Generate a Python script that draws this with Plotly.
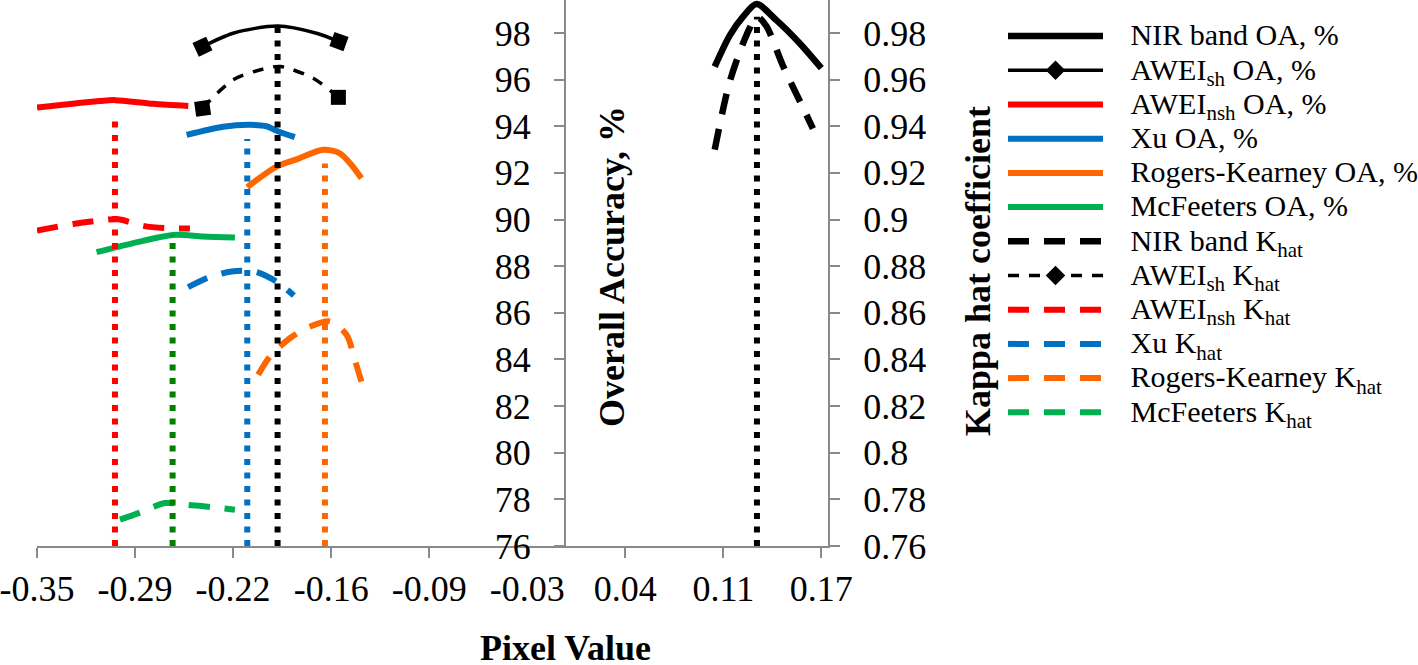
import plotly.graph_objects as go

FONT = "Liberation Serif"
AXIS_GRAY = "#898989"

# ---------------- axis ticks ----------------
x_tickvals = [-0.35, -0.285, -0.22, -0.155, -0.09, -0.025, 0.04, 0.105, 0.17]
x_ticktext = ["-0.35", "-0.29", "-0.22", "-0.16", "-0.09", "-0.03", "0.04", "0.11", "0.17"]
oa_tickvals = [76, 78, 80, 82, 84, 86, 88, 90, 92, 94, 96, 98]
k_tickvals = [0.76, 0.78, 0.80, 0.82, 0.84, 0.86, 0.88, 0.90, 0.92, 0.94, 0.96, 0.98]
k_ticktext = ["0.76", "0.78", "0.8", "0.82", "0.84", "0.86", "0.88", "0.9", "0.92", "0.94", "0.96", "0.98"]

x_range = [-0.35, 0.1744]
oa_range = [76, 99.414]
k_range = [0.76, 0.99414]

# ---------------- Overall accuracy (%) ----------------
nir_oa_x = [0.0993, 0.1093, 0.1181, 0.1270, 0.1400, 0.1556, 0.1700]
nir_oa_y = [96.56, 97.90, 98.70, 99.24, 98.56, 97.56, 96.49]

aweish_oa_x = [-0.2403, -0.2200, -0.1905, -0.1647, -0.1498]
aweish_oa_y = [97.41, 97.99, 98.30, 97.99, 97.63]

aweinsh_oa_x = [-0.3500, -0.3082, -0.2983, -0.2729, -0.2497]
aweinsh_oa_y = [94.80, 95.08, 95.12, 94.96, 94.87]

xu_oa_x = [-0.2508, -0.2266, -0.2089, -0.1978, -0.1912, -0.1791]
xu_oa_y = [93.63, 93.98, 94.06, 94.00, 93.81, 93.53]

rk_oa_x = [-0.2106, -0.1912, -0.1779, -0.1603, -0.1492, -0.1415, -0.1349]
rk_oa_y = [91.39, 92.27, 92.58, 92.99, 92.84, 92.34, 91.77]

mcf_oa_x = [-0.3105, -0.2862, -0.2597, -0.2398, -0.2188]
mcf_oa_y = [88.60, 88.99, 89.34, 89.27, 89.23]

# ---------------- Kappa hat ----------------
nir_k_x = [0.0993, 0.1092, 0.1203, 0.1273, 0.1335, 0.1445, 0.1578, 0.1644]
nir_k_y = [0.930, 0.959, 0.979, 0.987, 0.983, 0.966, 0.948, 0.939]

aweish_k_x = [-0.2402, -0.2200, -0.1978, -0.1884, -0.1669, -0.1502]
aweish_k_y = [0.9477, 0.9599, 0.9649, 0.9656, 0.9606, 0.9524]

aweinsh_k_x = [-0.3500, -0.3260, -0.3105, -0.2962, -0.2796, -0.2652, -0.2486]
aweinsh_k_y = [0.8953, 0.8981, 0.8994, 0.9001, 0.8973, 0.8963, 0.8961]

xu_k_x = [-0.2498, -0.2365, -0.2210, -0.2056, -0.1912, -0.1797]
xu_k_y = [0.8710, 0.8751, 0.8777, 0.8777, 0.8734, 0.8674]

rk_k_x = [-0.2034, -0.1956, -0.1824, -0.1713, -0.1559, -0.1448, -0.1393, -0.1349]
rk_k_y = [0.8334, 0.8413, 0.8491, 0.8534, 0.8563, 0.8506, 0.8398, 0.8305]

mcf_k_x = [-0.2950, -0.2806, -0.2652, -0.2508, -0.2343, -0.2188]
mcf_k_y = [0.7713, 0.7746, 0.7784, 0.7777, 0.7767, 0.7755]

# ---------------- optimal thresholds (dotted verticals) ----------------
opt_names = ["NIR band", "AWEIsh", "AWEInsh", "Xu", "Rogers-Kearney", "McFeeters"]
opt_x = [0.1273, -0.1905, -0.2983, -0.2106, -0.1591, -0.2601]
opt_bottom = [0.76, 0.76, 0.76, 0.76, 0.76, 0.76]
opt_top = [0.987, 0.9827, 0.945, 0.9345, 0.924, 0.8935]
opt_colors = ["#000000", "#000000", "#FF0000", "#0070C0", "#FF6600", "#008000"]

BLACK = "#000000"
RED = "#FF0000"
BLUE = "#0070C0"
ORANGE = "#FF6600"
GREEN = "#00B050"

THICK_DASH = "21px,15px"
THIN_DASH = "11px,10px"
DOT = "6px,7.5px"


def lab(s):
    return '<span style="font-size:30px">\u00a0\u00a0\u00a0' + s + '</span>'


fig = go.Figure()


def add_line(x, y, color, width, dash, name, yaxis="y", showlegend=True, marker=None):
    kw = dict(
        x=x, y=y, name=lab(name), yaxis=yaxis, showlegend=showlegend,
        hoverinfo="skip", mode="lines",
        line=dict(color=color, width=width, dash=dash, shape="spline", smoothing=0.8),
    )
    if marker is not None:
        kw["mode"] = "lines+markers"
        kw["marker"] = marker
    fig.add_trace(go.Scatter(**kw))


def end_markers(n, angles):
    return dict(symbol="square", color=BLACK, size=[15] + [0] * (n - 2) + [15],
                angle=[angles[0]] + [0] * (n - 2) + [angles[1]], line=dict(width=0),
                opacity=1)


def legend_only(color, width, dash, name):
    fig.add_trace(go.Scatter(
        x=[None], y=[None], mode="lines+markers", name=lab(name),
        line=dict(color=color, width=width, dash=dash),
        marker=dict(symbol="diamond", size=15, color=color), hoverinfo="skip"))


# OA series (left axis)
add_line(nir_oa_x, nir_oa_y, BLACK, 6.5, "solid", "NIR band OA, %")
add_line(aweish_oa_x, aweish_oa_y, BLACK, 3.5, "solid", "AWEI<sub>sh</sub> OA, %",
         showlegend=False, marker=end_markers(len(aweish_oa_x), [-25, 20]))
legend_only(BLACK, 3.5, "solid", "AWEI<sub>sh</sub> OA, %")
add_line(aweinsh_oa_x, aweinsh_oa_y, RED, 6, "solid", "AWEI<sub>nsh</sub> OA, %")
add_line(xu_oa_x, xu_oa_y, BLUE, 6, "solid", "Xu OA, %")
add_line(rk_oa_x, rk_oa_y, ORANGE, 6, "solid", "Rogers-Kearney OA, %")
add_line(mcf_oa_x, mcf_oa_y, GREEN, 6, "solid", "McFeeters OA, %")

# Kappa series (right axis)
add_line(nir_k_x, nir_k_y, BLACK, 6.5, THICK_DASH, "NIR band K<sub>hat</sub>", yaxis="y2")
add_line(aweish_k_x, aweish_k_y, BLACK, 3.5, THIN_DASH, "AWEI<sub>sh</sub> K<sub>hat</sub>",
         yaxis="y2", showlegend=False, marker=end_markers(len(aweish_k_x), [-8, 0]))
legend_only(BLACK, 3.5, THIN_DASH, "AWEI<sub>sh</sub> K<sub>hat</sub>")
add_line(aweinsh_k_x, aweinsh_k_y, RED, 6, THICK_DASH, "AWEI<sub>nsh</sub> K<sub>hat</sub>", yaxis="y2")
add_line(xu_k_x, xu_k_y, BLUE, 6, THICK_DASH, "Xu K<sub>hat</sub>", yaxis="y2")
add_line(rk_k_x, rk_k_y, ORANGE, 6, THICK_DASH, "Rogers-Kearney K<sub>hat</sub>", yaxis="y2")
add_line(mcf_k_x, mcf_k_y, GREEN, 6, THICK_DASH, "McFeeters K<sub>hat</sub>", yaxis="y2")

# dotted verticals at the optimal thresholds
for nm, xv, yb, yt, c in zip(opt_names, opt_x, opt_bottom, opt_top, opt_colors):
    fig.add_trace(go.Scatter(
        x=[xv, xv], y=[yb, yt], mode="lines", yaxis="y2", showlegend=False,
        name=nm, hoverinfo="skip", line=dict(color=c, width=6, dash=DOT)))

axis_common = dict(
    showline=True, linecolor=AXIS_GRAY, linewidth=2,
    ticks="outside", ticklen=10, tickwidth=2, tickcolor=AXIS_GRAY,
    showgrid=False, zeroline=False, automargin=False, ticklabeloverflow="allow",
    tickfont=dict(family=FONT, size=36, color="#000000"),
)

fig.update_layout(
    width=1418, height=665,
    margin=dict(l=37, r=590, t=0, b=119, pad=0, autoexpand=False),
    paper_bgcolor="white", plot_bgcolor="white",
    font=dict(family=FONT, size=24, color="#000000"),
    xaxis=dict(range=x_range, tickmode="array", tickvals=x_tickvals, ticktext=x_ticktext,
               ticklabelstandoff=0, **axis_common),
    yaxis=dict(range=oa_range, anchor="free", position=0.35 / 0.5244, side="left",
               tickmode="array", tickvals=oa_tickvals, ticklabelstandoff=16, **axis_common),
    yaxis2=dict(range=k_range, overlaying="y", side="right", anchor="x",
                tickmode="array", tickvals=k_tickvals, ticktext=k_ticktext,
                ticklabelstandoff=16, **axis_common),
    legend=dict(
        xref="container", yref="container", x=1003 / 1418, y=1 - 14 / 665,
        xanchor="left", yanchor="top", itemwidth=95, traceorder="normal",
        maxheight=660,
        font=dict(family=FONT, size=24, color="#000000"),
        bgcolor="rgba(0,0,0,0)", borderwidth=0,
    ),
    showlegend=True,
    annotations=[
        dict(text="Pixel Value", xref="paper", yref="paper",
             x=(565 - 37) / 791, y=(546 - 648) / 546, showarrow=False,
             xanchor="center", yanchor="middle",
             font=dict(family=FONT, size=36, color="#000000", weight="bold")),
        dict(text="Overall Accuracy, %", xref="paper", yref="paper",
             x=(612 - 37) / 791, y=(546 - 267) / 546, showarrow=False, textangle=-90,
             xanchor="center", yanchor="middle",
             font=dict(family=FONT, size=36, color="#000000", weight="bold")),
        dict(text="Kappa hat coefficient", xref="paper", yref="paper",
             x=(978 - 37) / 791, y=(546 - 271) / 546, showarrow=False, textangle=-90,
             xanchor="center", yanchor="middle",
             font=dict(family=FONT, size=36, color="#000000", weight="bold")),
    ],
)

fig.write_html("out.html", config={"displayModeBar": False},
               post_script="document.body.style.margin='0px';")
